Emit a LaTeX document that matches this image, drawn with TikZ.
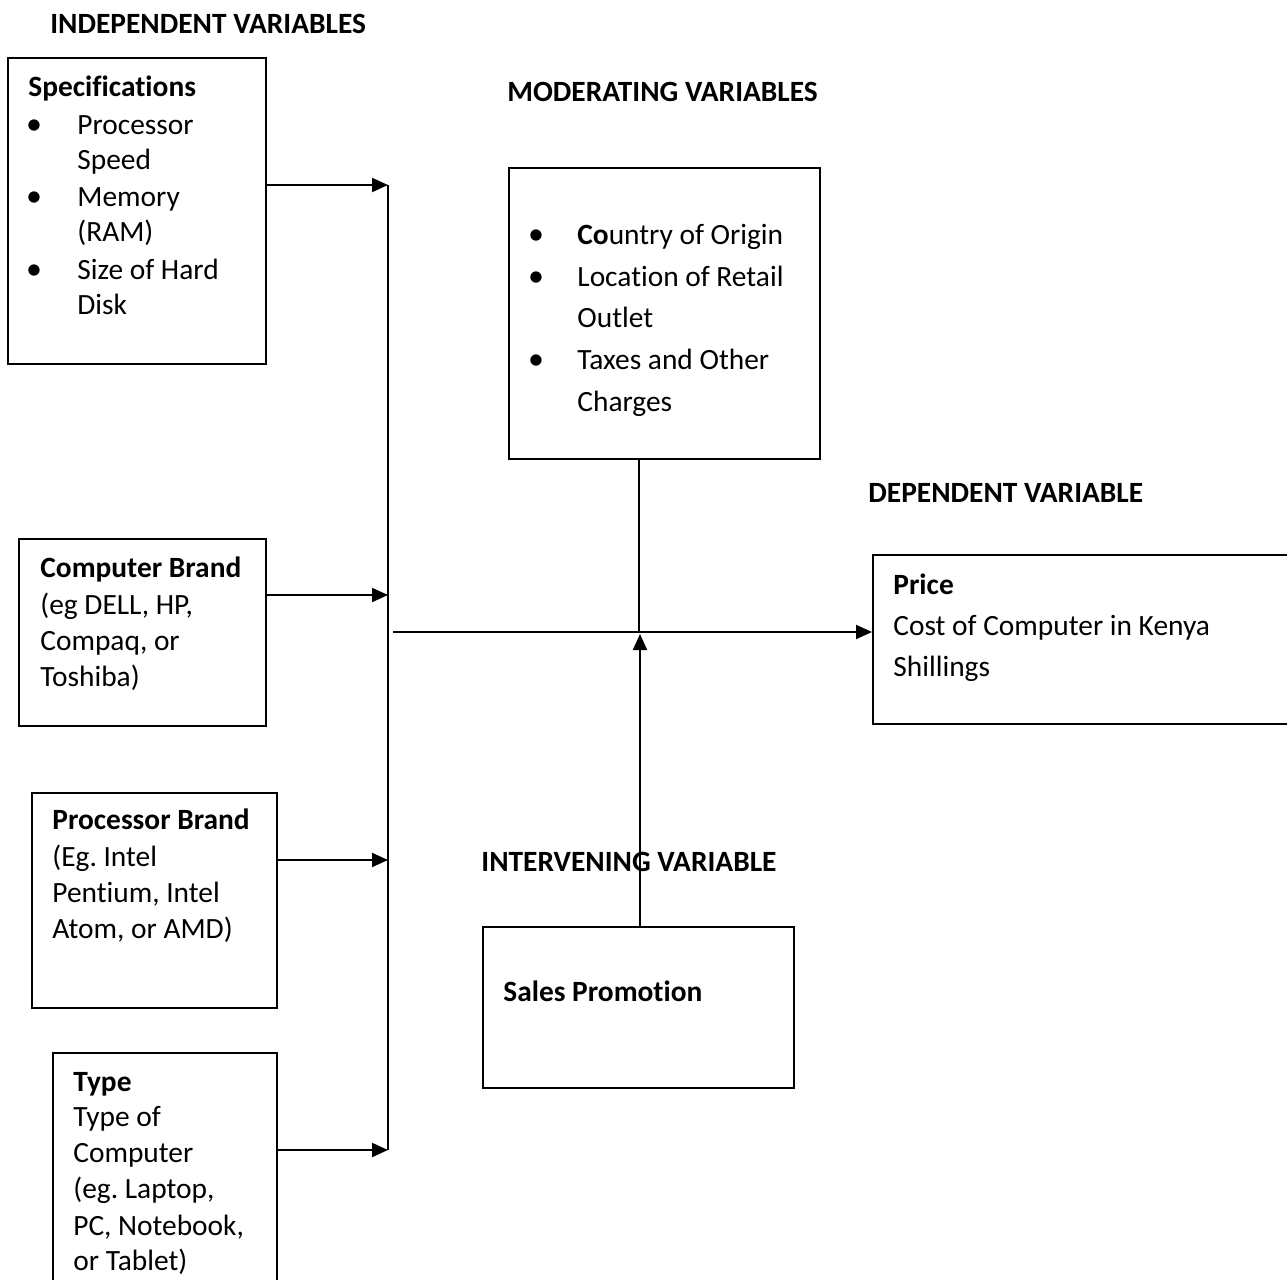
\documentclass[tikz,border=0pt]{standalone}
\usepackage{fontspec}
\setmainfont[Ligatures={NoCommon}]{Carlito}
\usetikzlibrary{arrows.meta}
\begin{document}
\frenchspacing
\begin{tikzpicture}[x=0.5pt,y=-0.5pt,
  box/.style={draw, line width=0.9pt, rectangle, inner sep=0pt, anchor=north west},
  txt/.style={anchor=base west, inner sep=0pt, font=\fontsize{14.7}{18}\selectfont},
  bt/.style={anchor=base west, inner sep=0pt, font=\bfseries\fontsize{14.7}{18}\selectfont},
  bul/.style={anchor=base, inner sep=0pt, font=\fontsize{16}{18}\selectfont},
  conn/.style={line width=1pt},
  arr/.style={line width=1pt, -{Triangle[length=8pt,width=7pt]}}]
\useasboundingbox (0,0) rectangle (1287,1280);
\clip (0,0) rectangle (1287,1280);
% boxes
\node[box, minimum width=129pt, minimum height=153pt] (spec) at (7,57) {};
\node[box, minimum width=123.5pt, minimum height=93.5pt] (brand) at (18,538) {};
\node[box, minimum width=122.5pt, minimum height=107.5pt] (proc) at (31,792) {};
\node[box, minimum width=112pt, minimum height=124pt] (type) at (52,1052) {};
\node[box, minimum width=155.5pt, minimum height=145.5pt] (mod) at (508,167) {};
\node[box, minimum width=214pt, minimum height=84.5pt] (price) at (872,554) {};
\node[box, minimum width=155.5pt, minimum height=80.5pt] (sales) at (482,926) {};
% titles
\node[bt] (tind) at (50,33) {INDEPENDENT VARIABLES};
\node[bt] (tmod) at (507,101) {MODERATING VARIABLES};
\node[bt] (tdep) at (868,502) {DEPENDENT VARIABLE};
\node[bt] (tint) at (481,871) {INTERVENING VARIABLE};
% specifications
\node[bt] (s0) at (28,96) {Specifications};
\node[bul] (sb1) at (34,134) {•};
\node[bul] (sb2) at (34,206) {•};
\node[bul] (sb3) at (34,279) {•};
\node[txt] (s1) at (77,134) {Processor};
\node[txt] (s2) at (77,169) {Speed};
\node[txt] (s3) at (77,206) {Memory};
\node[txt] (s4) at (77,241) {(RAM)};
\node[txt] (s5) at (77,279) {Size of Hard};
\node[txt] (s6) at (77,314) {Disk};
% moderating
\node[bul] (mb1) at (536,244) {•};
\node[bul] (mb2) at (536,286) {•};
\node[bul] (mb3) at (536,369) {•};
\node[txt] (m1) at (577,244) {\textbf{Co}untry of Origin};
\node[txt] (m2) at (577,286) {Location of Retail};
\node[txt] (m3) at (577,327) {Outlet};
\node[txt] (m4) at (577,369) {Taxes and Other};
\node[txt] (m5) at (577,411) {Charges};
% price
\node[bt] (p0) at (893,594) {Price};
\node[txt] (p1) at (893,635) {Cost of Computer in Kenya};
\node[txt] (p2) at (893,676) {Shillings};
% computer brand
\node[bt] (c0) at (40,577) {Computer Brand};
\node[txt] (c1) at (40,614) {(eg DELL, HP,};
\node[txt] (c2) at (40,650) {Compaq, or};
\node[txt] (c3) at (40,686) {Toshiba)};
% processor brand
\node[bt] (r0) at (52,829) {Processor Brand};
\node[txt] (r1) at (52,866) {(Eg. Intel};
\node[txt] (r2) at (52,902) {Pentium, Intel};
\node[txt] (r3) at (52,938) {Atom, or AMD)};
% type
\node[bt] (y0) at (73,1091) {Type};
\node[txt] (y1) at (73,1126) {Type of};
\node[txt] (y2) at (73,1162) {Computer};
\node[txt] (y3) at (73,1198) {(eg. Laptop,};
\node[txt] (y4) at (73,1235) {PC, Notebook,};
\node[txt] (y5) at (73,1270) {or Tablet)};
% sales
\node[bt] (sp) at (503,1001) {Sales Promotion};
% connectors
\coordinate (b1) at (388,185);
\coordinate (b2) at (388,595);
\coordinate (b3) at (388,860);
\coordinate (b4) at (388,1150);
\coordinate (hs) at (393,632);
\coordinate (junc) at (639,632);
\coordinate (junc2) at (640,634);
\draw[conn] (b1) -- (b4);
\draw[arr] (spec.east |- b1) -- (b1);
\draw[arr] (brand.east |- b2) -- (b2);
\draw[arr] (proc.east |- b3) -- (b3);
\draw[arr] (type.east |- b4) -- (b4);
\draw[arr] (hs) -- (price.west |- hs);
\draw[conn] (mod.south -| junc) -- (junc);
\draw[arr] (sales.north -| junc2) -- (junc2);
\end{tikzpicture}
\end{document}
